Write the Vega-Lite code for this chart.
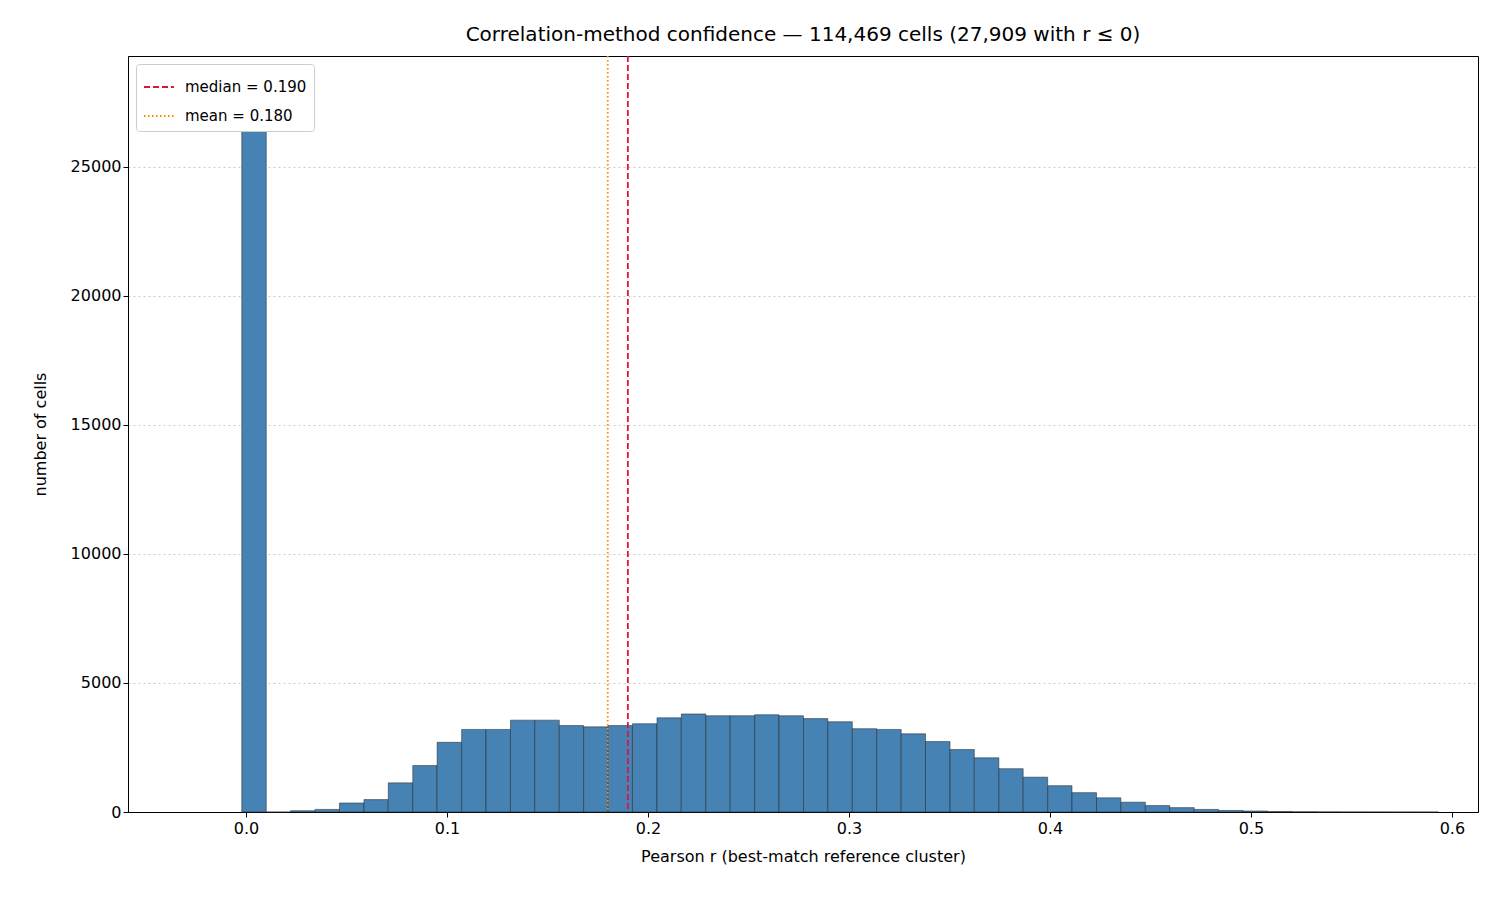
{
"$schema":"https://vega.github.io/schema/vega-lite/v6.json",
"width":1350,"height":756,
"autosize":{"type":"none"},
"padding":{"left":128,"top":56,"right":22,"bottom":88},
"config":{"font":"DejaVu Sans","view":{"stroke":"black","strokeWidth":1},
 "axis":{"labelFontSize":16,"titleFontSize":16,"titleFontWeight":"normal","labelColor":"black","titleColor":"black","domainColor":"black","tickColor":"black","labelFont":"DejaVu Sans","titleFont":"DejaVu Sans","tickSize":5}},
"title":{"text":"Correlation-method confidence — 114,469 cells (27,909 with r ≤ 0)","fontSize":20,"fontWeight":"normal","font":"DejaVu Sans","offset":10,"color":"black"},
"layer":[
{"data":{"values":[
{"x0":-0.0021,"x1":0.0101,"n":27909},{"x0":0.0101,"x1":0.0222,"n":0},{"x0":0.0222,"x1":0.0344,"n":50},{"x0":0.0344,"x1":0.0465,"n":100},{"x0":0.0465,"x1":0.0587,"n":350},{"x0":0.0587,"x1":0.0708,"n":480},{"x0":0.0708,"x1":0.083,"n":1130},{"x0":0.083,"x1":0.0951,"n":1800},{"x0":0.0951,"x1":0.1073,"n":2700},{"x0":0.1073,"x1":0.1194,"n":3200},{"x0":0.1194,"x1":0.1316,"n":3200},{"x0":0.1316,"x1":0.1437,"n":3560},{"x0":0.1437,"x1":0.1559,"n":3560},{"x0":0.1559,"x1":0.168,"n":3350},{"x0":0.168,"x1":0.1802,"n":3300},{"x0":0.1802,"x1":0.1923,"n":3350},{"x0":0.1923,"x1":0.2045,"n":3420},{"x0":0.2045,"x1":0.2166,"n":3650},{"x0":0.2166,"x1":0.2288,"n":3800},{"x0":0.2288,"x1":0.2409,"n":3730},{"x0":0.2409,"x1":0.2531,"n":3730},{"x0":0.2531,"x1":0.2652,"n":3770},{"x0":0.2652,"x1":0.2774,"n":3730},{"x0":0.2774,"x1":0.2895,"n":3620},{"x0":0.2895,"x1":0.3017,"n":3500},{"x0":0.3017,"x1":0.3138,"n":3230},{"x0":0.3138,"x1":0.326,"n":3200},{"x0":0.326,"x1":0.3381,"n":3030},{"x0":0.3381,"x1":0.3503,"n":2730},{"x0":0.3503,"x1":0.3624,"n":2420},{"x0":0.3624,"x1":0.3746,"n":2100},{"x0":0.3746,"x1":0.3867,"n":1680},{"x0":0.3867,"x1":0.3989,"n":1350},{"x0":0.3989,"x1":0.411,"n":1020},{"x0":0.411,"x1":0.4232,"n":750},{"x0":0.4232,"x1":0.4353,"n":550},{"x0":0.4353,"x1":0.4475,"n":380},{"x0":0.4475,"x1":0.4596,"n":250},{"x0":0.4596,"x1":0.4718,"n":170},{"x0":0.4718,"x1":0.4839,"n":100},{"x0":0.4839,"x1":0.4961,"n":60},{"x0":0.4961,"x1":0.5082,"n":40},{"x0":0.5082,"x1":0.5204,"n":20},{"x0":0.5204,"x1":0.5325,"n":10},{"x0":0.5325,"x1":0.5447,"n":5},{"x0":0.5447,"x1":0.5568,"n":3},{"x0":0.5568,"x1":0.569,"n":2},{"x0":0.569,"x1":0.5811,"n":1},{"x0":0.5811,"x1":0.5933,"n":1}]},
 "mark":{"type":"bar","fill":"steelblue","stroke":"#222","strokeWidth":0.5},
 "encoding":{
  "x":{"field":"x0","type":"quantitative","scale":{"domain":[-0.0587,0.613],"nice":false,"zero":false},"axis":{"values":[0,0.1,0.2,0.3,0.4,0.5,0.6],"format":".1f","grid":false,"title":"Pearson r (best-match reference cluster)","labelPadding":3,"titlePadding":12}},
  "x2":{"field":"x1"},
  "y":{"field":"n","type":"quantitative","scale":{"domain":[0,29300],"nice":false},"axis":{"values":[0,5000,10000,15000,20000,25000],"format":"d","grid":true,"gridDash":[2,3],"gridColor":"#ccc","title":"number of cells","titlePadding":22}},
  "y2":{"datum":0}}},
{"data":{"values":[{"v":0.19,"k":"median = 0.190"},{"v":0.18,"k":"mean = 0.180"}]},
 "mark":{"type":"rule","strokeWidth":1.8},
 "encoding":{"x":{"field":"v","type":"quantitative"},
  "color":{"field":"k","type":"nominal","scale":{"domain":["median = 0.190","mean = 0.180"],"range":["crimson","darkorange"]},
   "legend":{"title":null,"orient":"top-left","offset":8,"strokeColor":"#ccc","fillColor":"white","padding":7,"cornerRadius":3,"labelFontSize":15,"symbolType":"stroke","symbolSize":900,"symbolStrokeWidth":1.8,"labelFont":"DejaVu Sans","rowPadding":5,"labelOffset":10}},
  "strokeDash":{"field":"k","type":"nominal","scale":{"domain":["median = 0.190","mean = 0.180"],"range":[[6,3],[1.5,2.5]]},"legend":null}}}
]}
